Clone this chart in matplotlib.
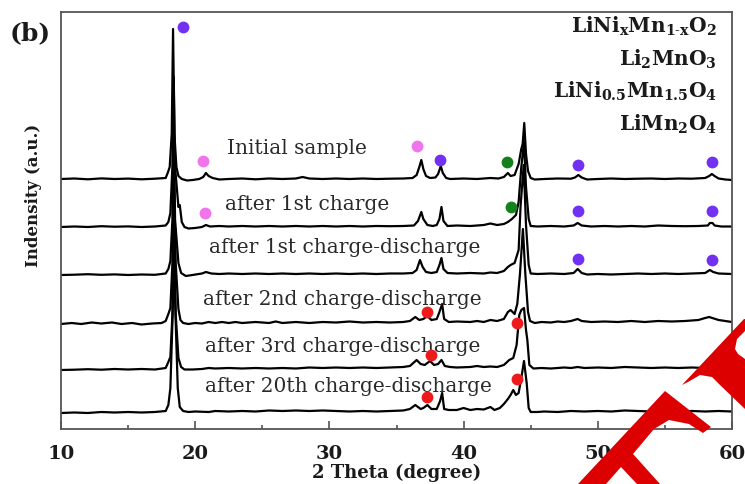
import matplotlib
matplotlib.use("Agg")
import matplotlib.pyplot as plt
from matplotlib.patches import Polygon

# ===== 設定 =====
FIG_SIZE = (7.45, 4.85)
DPI = 100
FONT = "DejaVu Serif"
plt.rcParams["font.family"] = [FONT, "DejaVu Sans"]
plt.rcParams["mathtext.fontset"] = "dejavuserif"

# ===== データ (2θ, 強度) : 各パターンはベースラインからの相対値 =====
initial = [(10.0, 0), (11.0, 0.5), (12.0, -0.3), (13.0, 0.6), (14.0, 0), (15.0, 0.4), (16.0, -0.3),
           (17.0, 0.3), (17.8, 1), (17.95, 6), (18.1, 12), (18.25, 45), (18.35, 150), (18.45, 45),
           (18.6, 12), (18.75, 3), (19.0, 0), (19.4, -1.5), (19.8, -1), (20.3, 0),
           (20.6, 2), (20.8, 6), (21.0, 3), (21.3, 1), (21.8, -0.5), (22.5, 0), (23.5, 0.5),
           (24.5, -0.3), (25.5, 0.5), (26.5, 0), (27.5, 0.5), (28.0, 2), (28.5, 0.5), (29.5, 0),
           (30.5, 0.5), (31.5, 0), (32.5, 0.5), (33.5, 0), (34.5, 0.3), (35.5, 0.5), (36.2, 1),
           (36.5, 4), (36.7, 12), (36.85, 19), (37.0, 10), (37.2, 3), (37.5, 1), (37.9, 1.5),
           (38.1, 5), (38.3, 13), (38.45, 6), (38.7, 1), (39.0, 0), (40.0, 0.5), (41.0, 0),
           (42.0, 1), (42.6, 0.5), (43.0, 2), (43.3, 6), (43.5, 3), (43.8, 4), (44.1, 15),
           (44.3, 30), (44.4, 35), (44.52, 56), (44.65, 25), (44.8, 8), (45.0, 1), (45.3, -0.5),
           (46.0, 0), (47.0, 0.5), (48.0, 0.3), (48.3, 1.5), (48.55, 4), (48.8, 1.5), (49.2, -0.5),
           (50.0, 0), (51.0, 0.5), (52.0, 0), (53.0, 0.3), (54.0, 0.5), (55.0, 0), (56.0, 0.5),
           (57.0, 0.3), (58.0, 1), (58.3, 3), (58.5, 5), (58.7, 3), (59.0, 0.5), (59.5, -0.5),
           (60.0, -1)]

charge1 = [(10.0, 0), (11.0, 0.5), (12.0, 0), (13.0, 0.8), (14.0, 0.3), (15.0, 0.6), (16.0, 0),
           (17.0, 0.5), (17.8, 1.5), (18.0, 5), (18.15, 14), (18.3, 60), (18.4, 150), (18.5, 60),
           (18.75, 20), (18.85, 22), (19.0, 5), (19.2, 0), (19.5, -1.5), (20.0, -1),
           (20.5, 0), (20.8, 2), (21.1, 0.5), (21.8, 1), (22.5, 0.5), (23.5, 1), (24.5, 0.5),
           (25.5, 1), (26.5, 0.5), (27.5, 1), (28.5, 0.5), (29.5, 1), (30.5, 0.5), (31.5, 1),
           (32.5, 0.5), (33.5, 1), (34.5, 0.8), (35.5, 1), (36.3, 1.5), (36.6, 6), (36.85, 15),
           (37.0, 8), (37.3, 2), (37.7, 1), (38.0, 2), (38.2, 8), (38.35, 20), (38.5, 6),
           (38.8, 1), (39.5, 1.5), (40.5, 1), (41.5, 2), (42.0, 3.5), (42.5, 2), (43.0, 3),
           (43.3, 5), (43.6, 8), (43.9, 12), (44.1, 25), (44.3, 60), (44.5, 85),
           (44.65, 40), (44.85, 8), (45.0, 1), (45.5, 0.5), (46.5, 1), (47.5, 0.5), (48.2, 1.5),
           (48.5, 4), (48.8, 1.5), (49.5, 0.5), (50.5, 1), (51.5, 0.5), (52.5, 1), (53.5, 0.5),
           (54.5, 1.5), (55.5, 1), (56.5, 0.8), (57.5, 1), (58.2, 1.5), (58.35, 4), (58.55, 4),
           (58.7, 1.5), (59.2, 0.5), (60.0, 0.5)]

cd1 = [(10.0, 0), (11.0, 0.3), (12.0, 0.8), (13.0, 0.2), (14.0, 0.6), (15.0, 0), (16.0, 0.5),
       (17.0, 0.2), (17.8, 1.5), (18.0, 6), (18.15, 14), (18.3, 55), (18.4, 150), (18.5, 55),
       (18.75, 12), (18.95, 2), (19.3, -1), (19.8, 0), (20.5, 1.5), (20.8, 3),
       (21.2, 1.5), (21.8, 1), (22.5, 1.5), (23.5, 1), (24.5, 1.5), (25.5, 1), (26.5, 1.5),
       (27.5, 1), (28.5, 1.5), (29.5, 1), (30.5, 1.5), (31.5, 1), (32.5, 1.5), (33.5, 1),
       (34.5, 1.5), (35.5, 1.5), (36.2, 2), (36.5, 5), (36.75, 15), (36.95, 8), (37.2, 3),
       (37.6, 2), (38.0, 3), (38.2, 10), (38.35, 17), (38.5, 6), (38.8, 2), (39.5, 1.5),
       (40.5, 2), (41.5, 1.5), (42.0, 2.5), (42.5, 2), (43.0, 4), (43.3, 8), (43.5, 10),
       (43.8, 12), (44.1, 25), (44.25, 70), (44.48, 110), (44.65, 50), (44.85, 10),
       (45.0, 1.5), (45.5, 1), (46.5, 1.5), (47.5, 1), (48.2, 2), (48.5, 6), (48.8, 2),
       (49.2, 0.5), (50.0, 1), (51.0, 0.5), (52.0, 1), (53.0, 1.5), (54.0, 1), (55.0, 1.5),
       (56.0, 1), (57.0, 1.5), (58.0, 2), (58.35, 5), (58.6, 3), (59.0, 1.5), (60.0, 1)]

cd2 = [(10.0, 0), (10.8, 1), (11.5, 0), (12.3, 1.5), (13.0, 0.5), (13.8, 1.5), (14.5, 0),
       (15.3, 1), (16.0, -0.5), (16.8, 0.5), (17.5, 1), (17.8, 3), (18.0, 10), (18.15, 16),
       (18.3, 60), (18.42, 150), (18.55, 60), (18.75, 15), (18.9, 4), (19.1, 1),
       (19.5, 0), (20.0, 1), (20.5, 0.5), (21.0, 2), (21.5, 1), (22.0, 2), (22.5, 1), (23.0, 2),
       (23.5, 1), (24.5, 2), (25.5, 1), (26.0, 2.5), (26.5, 1), (27.5, 2), (28.5, 1), (29.5, 2),
       (30.5, 1.5), (31.5, 2.5), (32.5, 1.5), (33.5, 2), (34.5, 1.5), (35.5, 2), (36.0, 3),
       (36.4, 7), (36.7, 4), (37.0, 5), (37.3, 8), (37.6, 4), (38.0, 5), (38.2, 12), (38.4, 20),
       (38.55, 5), (38.9, 2), (39.5, 2.5), (40.5, 2), (41.0, 3), (41.5, 2), (42.0, 4), (42.5, 3),
       (43.0, 5), (43.3, 12), (43.5, 14), (43.8, 10), (44.0, 20), (44.2, 50), (44.42, 95),
       (44.6, 50), (44.8, 12), (44.95, 3), (45.3, 1), (45.8, 2), (46.5, 1.5),
       (47.0, 2.5), (47.5, 2), (48.0, 3), (48.5, 5), (48.8, 3), (49.5, 2), (50.5, 2.5),
       (51.5, 2), (52.5, 3), (53.5, 2), (54.5, 3), (55.5, 2.5), (56.5, 3), (57.5, 4), (58.0, 6),
       (58.3, 7), (59.0, 4), (59.5, 3), (60.0, 2)]

cd3 = [(10.0, 0), (11.0, 0.3), (12.0, 0.8), (13.0, 0.3), (14.0, 1), (15.0, 0.5), (16.0, 1),
       (17.0, 0.5), (17.8, 2), (18.0, 8), (18.15, 13), (18.3, 55), (18.42, 150), (18.55, 55),
       (18.75, 12), (18.95, 3), (19.2, 0.5), (19.8, 0.5), (20.5, 1), (21.0, 2),
       (21.5, 1.5), (22.5, 2), (23.5, 1.5), (24.5, 2), (25.5, 1.5), (26.5, 2), (27.5, 1.5),
       (28.5, 2.5), (29.5, 2), (30.5, 2.5), (31.5, 2), (32.5, 2.5), (33.5, 2), (34.5, 2.5),
       (35.5, 3), (36.0, 4), (36.5, 10), (36.8, 6), (37.1, 5), (37.5, 9), (37.8, 5), (38.1, 6),
       (38.35, 10), (38.6, 4), (39.0, 3), (39.5, 2.5), (40.5, 3), (41.0, 4), (41.5, 3),
       (42.0, 3.5), (42.5, 3), (43.0, 5), (43.4, 10), (43.7, 12), (43.95, 25), (44.15, 55),
       (44.3, 60), (44.5, 62), (44.65, 40), (44.75, 30), (44.9, 5), (45.2, 1.5), (45.8, 2),
       (46.5, 1.5), (47.5, 2.5), (48.0, 2), (48.5, 3), (49.0, 2), (50.0, 2.5), (51.0, 2),
       (52.0, 3), (53.0, 2.5), (54.0, 2), (55.0, 2.5), (56.0, 2), (57.0, 2.5), (58.0, 2),
       (59.0, 1.5), (60.0, 1.5)]

cd20 = [(10.0, 0), (11.0, 0.5), (12.0, 0), (13.0, 1), (14.0, 0.5), (15.0, 1), (16.0, 0.5),
        (17.0, 1), (17.8, 2), (18.0, 8), (18.15, 25), (18.3, 90), (18.42, 150), (18.55, 90),
        (18.7, 25), (18.85, 6), (19.1, 2), (19.5, 1), (20.0, 1.5), (21.0, 1),
        (21.5, 2), (22.5, 1.5), (23.5, 2), (24.5, 1.5), (25.5, 2.5), (26.5, 2), (27.5, 2.5),
        (28.5, 2), (29.5, 2.5), (30.5, 2), (31.5, 1.5), (32.5, 2), (33.5, 1.5), (34.5, 2),
        (35.5, 2.5), (36.0, 4), (36.4, 8), (36.8, 4), (37.0, 5), (37.3, 8), (37.6, 4), (38.0, 4),
        (38.25, 12), (38.4, 20), (38.55, 4), (38.9, 3), (39.5, 3), (40.0, 5), (40.5, 3),
        (41.0, 4), (41.5, 3.5), (42.0, 6), (42.3, 3), (42.7, 5), (43.0, 9), (43.3, 14),
        (43.5, 18), (43.7, 23), (43.9, 18), (44.1, 20), (44.3, 35), (44.5, 52),
        (44.7, 30), (44.85, 5), (45.0, 1), (45.5, 1), (46.0, 1.5), (47.0, 1), (48.0, 2),
        (49.0, 1.5), (50.0, 2), (51.0, 1.5), (52.0, 2.5), (53.0, 2), (54.0, 1.5), (55.0, 2),
        (56.0, 1.5), (57.0, 2), (58.0, 1.5), (59.0, 2), (60.0, 1.5)]

patterns = [initial, charge1, cd1, cd2, cd3, cd20]
offsets = [250, 202, 154, 105, 59, 16]
pattern_labels = ["Initial sample", "after 1st charge", "after 1st charge-discharge",
                  "after 2nd charge-discharge", "after 3rd charge-discharge",
                  "after 20th charge-discharge"]
label_tt = [22.4, 22.2, 21.0, 20.6, 20.7, 20.7]
label_y = [282, 225, 182, 130, 83, 43]

# 相のマーカー位置 (2θ, 積み上げ後の y)
lnmo_layered = [(19.1, 402), (38.25, 269), (48.55, 264), (58.5, 267),
                (48.55, 218), (58.5, 218), (48.5, 170), (58.5, 169)]
li2mno3 = [(20.6, 268), (36.55, 283), (20.75, 216)]
lnmo_spinel = [(43.2, 267), (43.5, 222)]
limn2o4 = [(37.25, 117), (43.95, 106), (37.55, 74), (44.0, 50), (37.3, 32)]

phase_names = [r"LiNi$_\mathbf{x}$Mn$_\mathbf{1\text{-}x}$O$_\mathbf{2}$",
               r"Li$_\mathbf{2}$MnO$_\mathbf{3}$",
               r"LiNi$_\mathbf{0.5}$Mn$_\mathbf{1.5}$O$_\mathbf{4}$",
               r"LiMn$_\mathbf{2}$O$_\mathbf{4}$"]

PHASE_STYLE = [
    (lnmo_layered, "#7230f2"),
    (li2mno3, "#f075ec"),
    (lnmo_spinel, "#16801c"),
    (limn2o4, "#ee1a1a"),
]

# 透かし (右下の赤い図形, 画像ピクセル座標)
WM_A = [(682, 386), (744, 320), (745, 320), (745, 332), (737, 340), (735, 350), (738, 355),
        (745, 360), (745, 410), (720, 386), (712, 378), (700, 376), (688, 383)]
WM_B = [(578, 485), (665, 392), (711, 428), (703, 434), (689, 425), (669, 421), (654, 430),
        (633, 455), (660, 485), (637, 485), (621, 468), (606, 485)]


def main():
    fig = plt.figure(figsize=FIG_SIZE, dpi=DPI)
    ax = fig.add_axes([61 / 745, 1 - 430 / 485, 671 / 745, 417 / 485])

    for pts, off in zip(patterns, offsets):
        tt = [p[0] for p in pts]
        yy = [p[1] + off for p in pts]
        ax.plot(tt, yy, color="black", linewidth=1.6, solid_joinstyle="round")

    for s, x, y in zip(pattern_labels, label_tt, label_y):
        ax.text(x, y, s, fontsize=14.5, color="#2a2a2a", ha="left", va="center")

    for pts, col in PHASE_STYLE:
        ax.plot([p[0] for p in pts], [p[1] for p in pts], "o", color=col,
                markersize=8.5, markeredgewidth=0, zorder=5)

    for i, name in enumerate(phase_names):
        ax.text(0.978, (430 - (33 + 32.5 * i)) / 417, name, transform=ax.transAxes,
                fontsize=14.5, fontweight="bold", ha="right", va="baseline", color="#1a1a1a")

    ax.set_xlim(10, 60)
    ax.set_ylim(0, 417)
    ax.set_xticks([10, 20, 30, 40, 50, 60])
    ax.set_xticks([15, 25, 35, 45, 55], minor=True)
    ax.set_yticks([])
    ax.tick_params(axis="x", which="both", direction="in", width=1.1, colors="#444",
                   labelcolor="#1a1a1a", labelsize=14, pad=11)
    ax.tick_params(axis="x", which="major", length=6)
    ax.tick_params(axis="x", which="minor", length=3)
    for lbl in ax.get_xticklabels():
        lbl.set_fontweight("bold")
    for sp in ax.spines.values():
        sp.set_color("#555")
        sp.set_linewidth(1.3)

    ax.set_xlabel("2 Theta (degree)", fontsize=13, fontweight="bold", labelpad=0, color="#1a1a1a")
    ax.set_ylabel("Indensity (a.u.)", fontsize=12, fontweight="bold", color="#1a1a1a", va="center")
    ax.yaxis.set_label_coords((33 - 61) / 671, (430 - 195) / 417)

    fig.text(30 / 745, 1 - 33 / 485, "(b)", fontsize=18, fontweight="bold",
             ha="center", va="center", color="#1a1a1a")

    for shape in (WM_A, WM_B):
        pts = [(x / 745, 1 - y / 485) for x, y in shape]
        fig.add_artist(Polygon(pts, closed=True, transform=fig.transFigure,
                               facecolor="#dc0000", edgecolor="none", zorder=10))

    fig.savefig("out.png", dpi=DPI)


if __name__ == "__main__":
    main()
